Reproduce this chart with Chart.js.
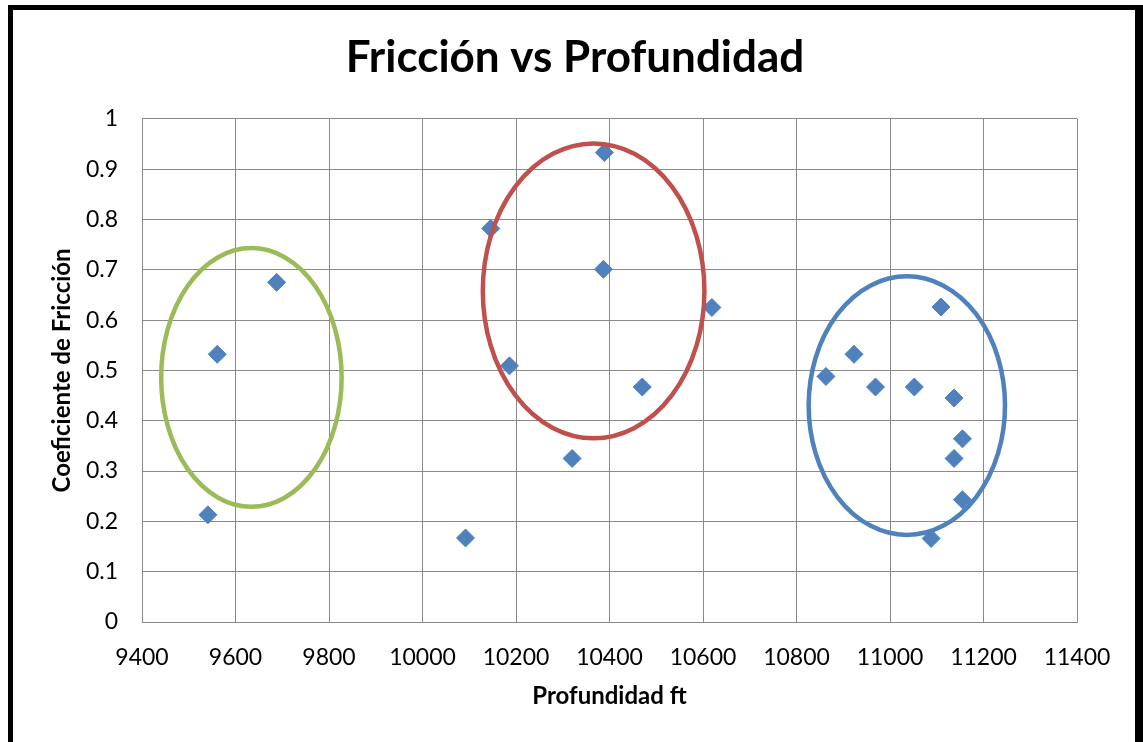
<!DOCTYPE html>
<html>
<head>
<meta charset="utf-8">
<script src="https://cdn.jsdelivr.net/npm/chart.js@4/dist/chart.umd.min.js"></script>
<style>
    html, body { margin: 0; padding: 0; background: #fff; overflow: hidden; }
    #marco {
        position: absolute; left: 8px; top: 5px; width: 1135px; height: 800px;
        box-sizing: border-box;
        border-left: 5px solid #000; border-top: 5px solid #000; border-right: 8px solid #000;
    }
    #friccionChart { position: absolute; left: 0; top: 0; }
</style>
</head>
<body>
<div id="marco"></div>
<canvas id="friccionChart" width="1143" height="742"></canvas>
<script>
// Datos
const profundidad = [9541, 9561, 9688, 10092, 10146, 10186, 10320, 10389, 10387, 10470, 10619,
                     10863, 10923, 10969, 11052, 11109, 11137, 11155, 11137, 11155, 11088];
const friccion = [0.213, 0.532, 0.675, 0.167, 0.782, 0.509, 0.325, 0.933, 0.701, 0.467, 0.625,
                  0.488, 0.532, 0.467, 0.467, 0.626, 0.445, 0.364, 0.325, 0.243, 0.166];

// Marcas de los ejes
const ticksX = [9400, 9600, 9800, 10000, 10200, 10400, 10600, 10800, 11000, 11200, 11400];
const ticksY = [0, 0.1, 0.2, 0.3, 0.4, 0.5, 0.6, 0.7, 0.8, 0.9, 1];

// Grupos marcados con elipses (en unidades de los ejes)
const grupoCentroX = [9634, 10366, 11036];
const grupoCentroY = [0.486, 0.658, 0.430];
const grupoRadioX = [193, 237, 210];
const grupoRadioY = [0.257, 0.293, 0.257];

document.addEventListener('DOMContentLoaded', function() {
    const ctx = document.getElementById('friccionChart').getContext('2d');
    const coloresGrupo = ['#9BBB59', '#C0504D', '#4F81BD'];

    // Dibuja las elipses encima de los puntos
    const elipsesPlugin = {
        id: 'elipses',
        afterDatasetsDraw(chart) {
            const x = chart.scales.x;
            const y = chart.scales.y;
            const c = chart.ctx;
            c.save();
            c.lineWidth = 4.5;
            grupoCentroX.forEach((cx, i) => {
                const px = x.getPixelForValue(cx);
                const py = y.getPixelForValue(grupoCentroY[i]);
                const rx = Math.abs(x.getPixelForValue(cx + grupoRadioX[i]) - px);
                const ry = Math.abs(y.getPixelForValue(grupoCentroY[i] + grupoRadioY[i]) - py);
                c.strokeStyle = coloresGrupo[i];
                c.beginPath();
                c.ellipse(px, py, rx, ry, 0, 0, Math.PI * 2);
                c.stroke();
            });
            c.restore();
        }
    };

    const chartData = {
        datasets: [{
            label: 'Fricción',
            data: profundidad.map((p, i) => ({ x: p, y: friccion[i] })),
            pointStyle: 'rectRot',
            pointRadius: 9,
            backgroundColor: '#4F81BD',
            borderColor: '#4F81BD',
            borderWidth: 1,
            showLine: false
        }]
    };

    const gridColor = '#898989';

    new Chart(ctx, {
        type: 'scatter',
        data: chartData,
        plugins: [elipsesPlugin],
        options: {
            responsive: false,
            animation: false,
            layout: { padding: { left: 7, right: 0, top: 0, bottom: 0 } },
            plugins: {
                legend: { display: false },
                tooltip: { enabled: false },
                title: {
                    display: true,
                    text: 'Fricción vs Profundidad',
                    color: '#000',
                    font: { family: 'Lato', size: 44, weight: 'bold' },
                    padding: { top: 31, bottom: 35 }
                }
            },
            scales: {
                x: {
                    type: 'linear',
                    min: 9400,
                    max: 11400,
                    afterBuildTicks: function(scale) {
                        scale.ticks = ticksX.map(v => ({ value: v }));
                    },
                    afterFit: function(scale) { scale.height = 120; },
                    grid: { color: gridColor, lineWidth: 1, drawTicks: false },
                    border: { color: gridColor, width: 1 },
                    ticks: {
                        color: '#000',
                        padding: 22,
                        font: { family: 'Lato', size: 23 },
                        callback: value => String(value)
                    },
                    title: {
                        display: true,
                        text: 'Profundidad ft',
                        color: '#000',
                        font: { family: 'Lato', size: 24, weight: 'bold' },
                        padding: { top: 0, bottom: 31 }
                    }
                },
                y: {
                    type: 'linear',
                    min: 0,
                    max: 1,
                    afterBuildTicks: function(scale) {
                        scale.ticks = ticksY.map(v => ({ value: v }));
                    },
                    afterFit: function(scale) { scale.width = 135; },
                    grid: { color: gridColor, lineWidth: 1, drawTicks: false },
                    border: { color: gridColor, width: 1 },
                    ticks: {
                        color: '#000',
                        padding: 24,
                        font: { family: 'Lato', size: 23 },
                        callback: value => String(Math.round(value * 10) / 10)
                    },
                    title: {
                        display: true,
                        text: 'Coeficiente de Fricción',
                        color: '#000',
                        font: { family: 'Lato', size: 24, weight: 'bold' },
                        padding: { top: 41, bottom: 0 }
                    }
                },
                // eje vacío a la derecha para reservar el margen
                margen: {
                    type: 'linear',
                    position: 'right',
                    min: 0,
                    max: 1,
                    afterFit: function(scale) { scale.width = 66; },
                    grid: { display: false },
                    border: { display: false },
                    ticks: { display: false }
                }
            }
        }
    });
});
</script>
</body>
</html>
